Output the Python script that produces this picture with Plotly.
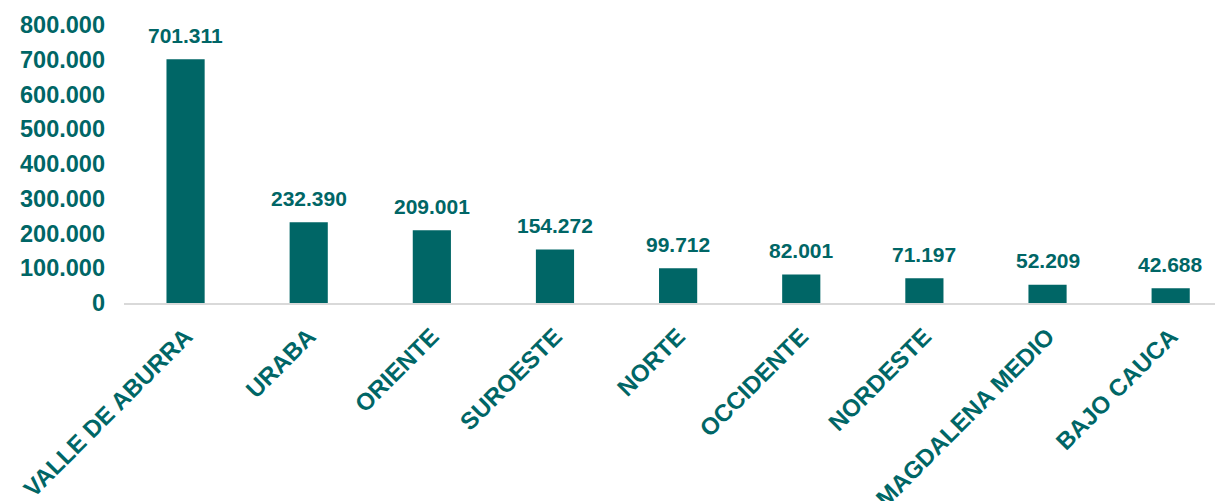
import plotly.graph_objects as go

categories = ["VALLE DE ABURRA", "URABA", "ORIENTE", "SUROESTE", "NORTE",
              "OCCIDENTE", "NORDESTE", "MAGDALENA MEDIO", "BAJO CAUCA"]
values = [701311, 232390, 209001, 154272, 99712, 82001, 71197, 52209, 42688]
y_ticks = [0, 100000, 200000, 300000, 400000, 500000, 600000, 700000, 800000]

TEAL = "#006666"
FONT = "Liberation Sans, Arial, sans-serif"

fig = go.Figure()
fig.add_trace(go.Bar(
    x=categories, y=values,
    marker=dict(color=TEAL, line=dict(width=0)),
    width=0.31,
    hoverinfo="skip",
))

for c, v in zip(categories, values):
    fig.add_annotation(
        x=c, y=v, text="<b>" + f"{v:,}".replace(",", ".") + "</b>",
        showarrow=False, yanchor="middle", yshift=24,
        font=dict(family=FONT, size=21, color=TEAL),
    )

fig.update_layout(
    width=1215, height=501,
    margin=dict(l=124, r=0, t=25, b=198),
    paper_bgcolor="white", plot_bgcolor="white",
    separators=",.",
    showlegend=False,
    bargap=0.69,
    font=dict(family=FONT, color=TEAL),
)
fig.update_xaxes(
    type="category", range=[-0.5, 8.36], automargin=False,
    showline=True, linecolor="#d9d9d9", linewidth=2,
    showgrid=False, ticks="", tickangle=-45,
    tickfont=dict(family=FONT, size=24, color=TEAL, weight="bold"),
    ticklabelstandoff=8,
)
fig.update_yaxes(
    range=[0, 800000], tickvals=y_ticks, tickformat=",d", automargin=False,
    showgrid=False, zeroline=False, showline=False, ticks="",
    tickfont=dict(family=FONT, size=23.5, color=TEAL, weight="bold"),
    ticklabelstandoff=18,
)

fig.write_html("out.html")
